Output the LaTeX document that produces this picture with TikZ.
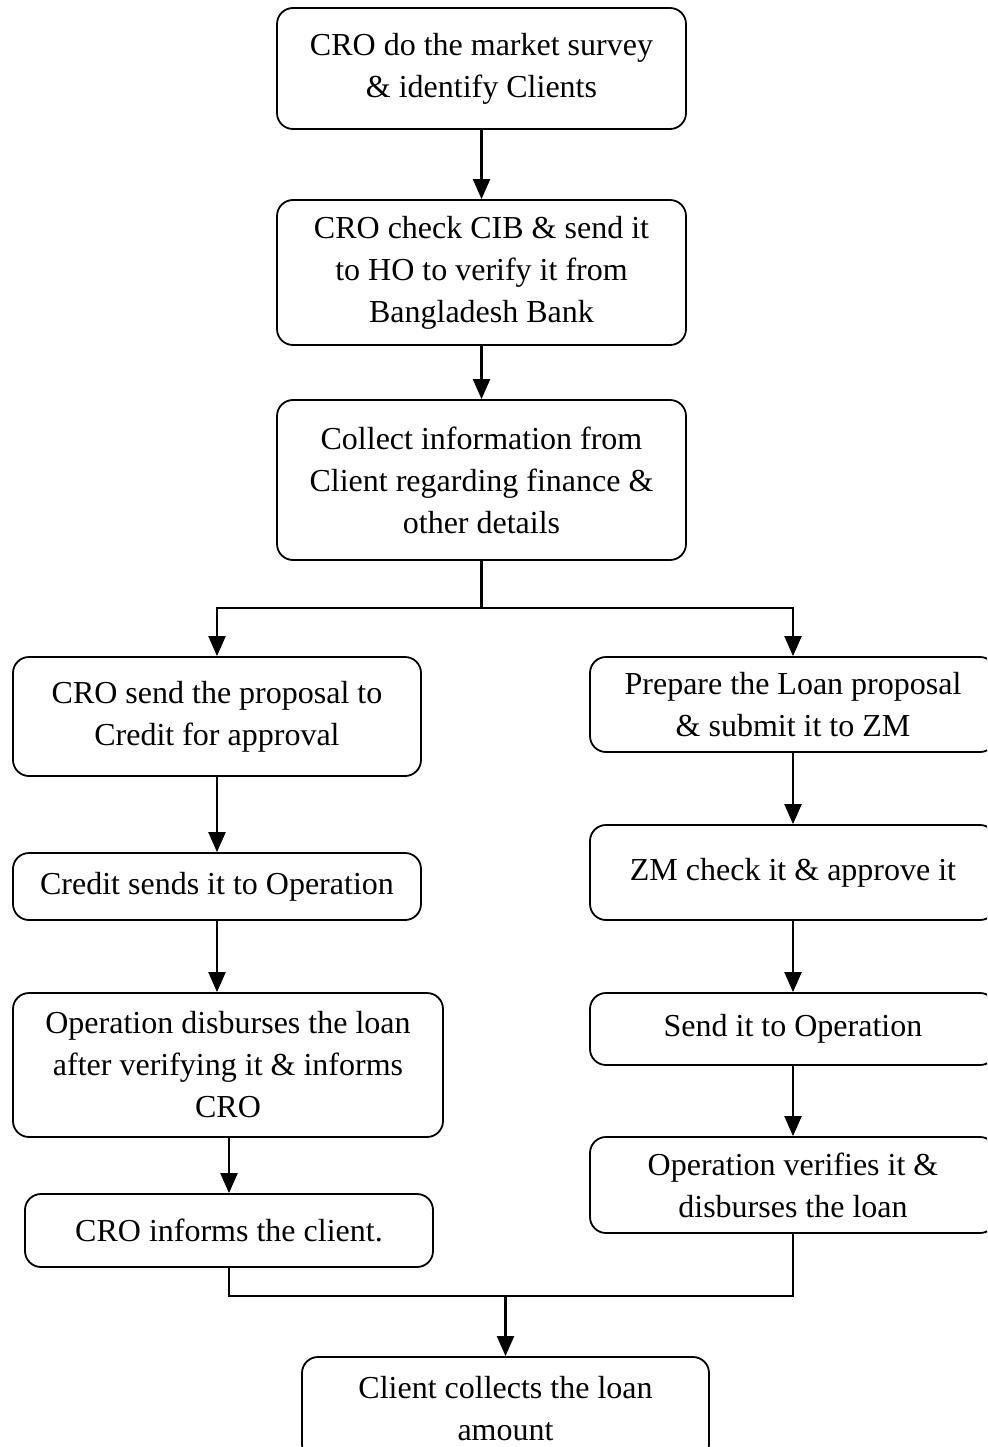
\documentclass[tikz,border=0pt]{standalone}
\usepackage{fontspec}
\setmainfont{Liberation Serif}
\usetikzlibrary{arrows.meta}
\tikzset{
  procbox/.style={draw, line width=1.8pt, rounded corners=16pt, align=center,
    inner sep=0pt, font=\fontsize{32}{42}\selectfont},
  flow/.style={line width=2.2pt, -{Triangle[length=20pt,width=17pt]}},
  joint/.style={line width=2.2pt}
}
\begin{document}
\begin{tikzpicture}[x=1pt,y=-1pt]
\useasboundingbox (0,0) rectangle (987,1447);
\clip (0,0) rectangle (987,1447);
% centre column
\node[procbox, minimum width=409pt, minimum height=121pt] (survey) at (481.5,68.5) {CRO do the market survey\\\& identify Clients};
\node[procbox, minimum width=409pt, minimum height=145pt] (cib) at (481.5,272.5) {CRO check CIB \& send it\\to HO to verify it from\\Bangladesh Bank};
\node[procbox, minimum width=409pt, minimum height=160pt] (info) at (481.5,480) {Collect information from\\Client regarding finance \&\\other details};
% left column
\node[procbox, minimum width=408pt, minimum height=119pt] (tocredit) at (217,716.5) {CRO send the proposal to\\Credit for approval};
\node[procbox, minimum width=408pt, minimum height=67pt] (tooper) at (217,886.5) {Credit sends it to Operation};
\node[procbox, minimum width=430pt, minimum height=144pt] (disburse) at (228,1065) {Operation disburses the loan\\after verifying it \& informs\\CRO};
\node[procbox, minimum width=408pt, minimum height=73pt] (inform) at (229,1230.5) {CRO informs the client.};
% right column
\node[procbox, minimum width=406pt, minimum height=95pt] (prepare) at (793,704.5) {Prepare the Loan proposal\\\& submit it to ZM};
\node[procbox, minimum width=406pt, minimum height=95pt] (zmcheck) at (793,872.5) {ZM check it \& approve it};
\node[procbox, minimum width=406pt, minimum height=72pt] (sendop) at (793,1029) {Send it to Operation};
\node[procbox, minimum width=406pt, minimum height=96pt] (opverify) at (793,1185) {Operation verifies it \&\\disburses the loan};
% bottom
\node[procbox, minimum width=407pt, minimum height=103pt] (collect) at (505.5,1408.5) {Client collects the loan\\amount};
% connectors
\coordinate (split) at (481.5,608);
\coordinate (merge) at (505.5,1296);
\draw[flow] (survey) -- (cib);
\draw[flow] (cib) -- (info);
\draw[joint] (info.south) -- (split);
\draw[flow] (split) -| (tocredit.north);
\draw[flow] (split) -| (prepare.north);
\draw[flow] (tocredit.south) -- (tocredit.south |- tooper.north);
\draw[flow] (tooper.south) -- (tooper.south |- disburse.north);
\draw[flow] (inform.north |- disburse.south) -- (inform.north);
\draw[flow] (prepare) -- (zmcheck);
\draw[flow] (zmcheck) -- (sendop);
\draw[flow] (sendop) -- (opverify);
\draw[joint] (inform.south) |- (opverify.south |- merge) -- (opverify.south);
\draw[flow] (merge) -- (collect.north);
\end{tikzpicture}
\end{document}
